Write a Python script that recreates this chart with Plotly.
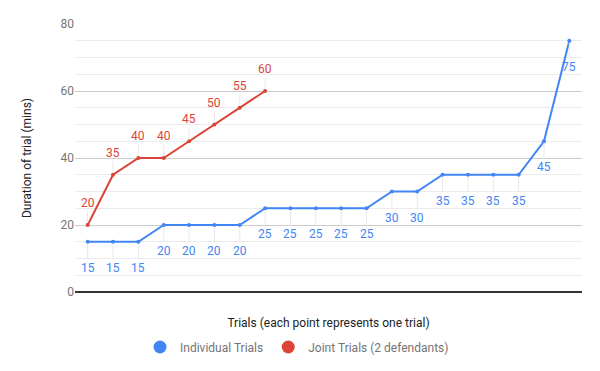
import plotly.graph_objects as go

trial_index_individual = list(range(20))
individual_minutes = [15, 15, 15, 20, 20, 20, 20, 25, 25, 25, 25, 25, 30, 30, 35, 35, 35, 35, 45, 75]
trial_index_joint = list(range(8))
joint_minutes = [20, 35, 40, 40, 45, 50, 55, 60]
series_names = ["Individual Trials", "Joint Trials (2 defendants)"]
y_ticks = [0, 20, 40, 60, 80]

BLUE = "#4285F4"
RED = "#DB4437"
FONT = "Roboto"

fig = go.Figure()
fig.add_trace(go.Scatter(x=trial_index_individual, y=individual_minutes, mode="lines+markers",
                         line=dict(color=BLUE, width=2), marker=dict(size=4, color=BLUE),
                         showlegend=False, hoverinfo="skip"))
fig.add_trace(go.Scatter(x=trial_index_joint, y=joint_minutes, mode="lines+markers",
                         line=dict(color=RED, width=2), marker=dict(size=4, color=RED),
                         showlegend=False, hoverinfo="skip"))
for name, color in zip(series_names, [BLUE, RED]):
    fig.add_trace(go.Scatter(x=[None], y=[None], mode="markers", name=name,
                             marker=dict(size=13, color=color)))

annotations = []
for xs, ys, color, ay in [(trial_index_individual, individual_minutes, BLUE, 26),
                          (trial_index_joint, joint_minutes, RED, -22)]:
    for xv, yv in zip(xs, ys):
        annotations.append(dict(x=xv, y=yv, xref="x", yref="y", text=str(yv),
                                showarrow=True, arrowhead=0, arrowwidth=1, arrowcolor="#e8e8e8",
                                ax=0, ay=ay, standoff=2,
                                font=dict(family=FONT, size=12, color=color)))

fig.update_layout(
    width=600, height=371,
    margin=dict(l=75, r=18, t=24, b=79, autoexpand=False),
    paper_bgcolor="white", plot_bgcolor="white",
    font=dict(family=FONT, size=12, color="#757575"),
    annotations=annotations,
    showlegend=True,
    legend=dict(orientation="h", xref="container", x=0.495, xanchor="center",
                yref="container", y=24 / 371, yanchor="middle",
                font=dict(family=FONT, size=12, color="#757575"), itemsizing="trace",
                itemwidth=30),
    xaxis=dict(range=[-0.5, 19.5], showticklabels=False, showgrid=False, zeroline=False,
               ticks="", title=dict(text="Trials (each point represents one trial)",
                                    font=dict(family=FONT, size=12, color="#222222"), standoff=26),
               automargin=False),
    yaxis=dict(range=[0, 80], tickvals=y_ticks, showgrid=True, gridcolor="#cccccc", gridwidth=1,
               minor=dict(dtick=5, showgrid=True, gridcolor="#ebebeb", gridwidth=1),
               zeroline=True, zerolinecolor="#333333", zerolinewidth=1.5,
               tickfont=dict(family=FONT, size=12, color="#757575"), ticks="", ticklen=0,
               title=dict(text="Duration of trial (mins)",
                          font=dict(family=FONT, size=12, color="#222222"), standoff=26),
               automargin=False),
)

fig.write_html("out.html", config={"displayModeBar": False},
               post_script="document.body.style.margin='0';")
